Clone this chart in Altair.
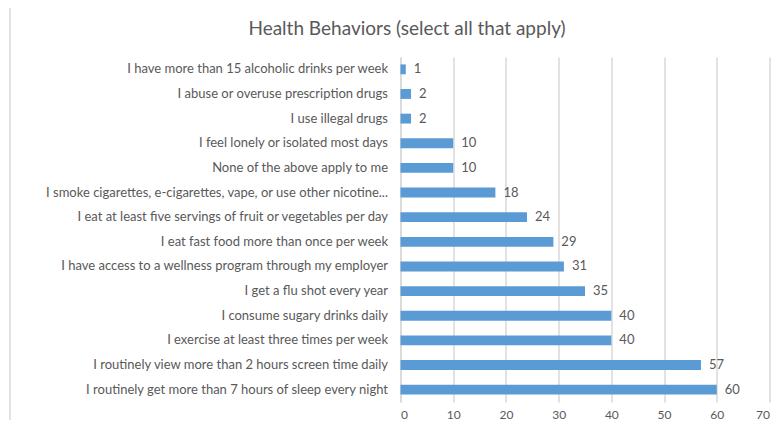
import altair as alt
import pandas as pd

chart_title = ["Health Behaviors (select all that apply)"]
behaviors = [
    "I have more than 15 alcoholic drinks per week",
    "I abuse or overuse prescription drugs",
    "I use illegal drugs",
    "I feel lonely or isolated most days",
    "None of the above apply to me",
    "I smoke cigarettes, e-cigarettes, vape, or use other nicotine...",
    "I eat at least five servings of fruit or vegetables per day",
    "I eat fast food more than once per week",
    "I have access to a wellness program through my employer",
    "I get a flu shot every year",
    "I consume sugary drinks daily",
    "I exercise at least three times per week",
    "I routinely view more than 2 hours screen time daily",
    "I routinely get more than 7 hours of sleep every night",
]
counts = [1, 2, 2, 10, 10, 18, 24, 29, 31, 35, 40, 40, 57, 60]
x_ticks = [0, 10, 20, 30, 40, 50, 60, 70]

df = pd.DataFrame({"behavior": behaviors, "count": counts})
tdf = pd.DataFrame({"t": chart_title})

FONT = "Lato"
GREY = "#595959"

y_enc = alt.Y("behavior:N", sort=behaviors, title=None,
              scale=alt.Scale(paddingInner=0.6, paddingOuter=0.3),
              axis=alt.Axis(labelFontSize=13, labelColor=GREY, labelFont=FONT,
                            labelPadding=13, ticks=False, domain=True,
                            domainColor="#d9d9d9", domainWidth=1.5,
                            labelLimit=400))
x_enc = alt.X("count:Q", title=None,
              scale=alt.Scale(domain=[0, 70], nice=False),
              axis=alt.Axis(values=x_ticks, labelFontSize=12, labelColor=GREY,
                            labelFont=FONT, ticks=False, domain=False,
                            gridColor="#d9d9d9", gridWidth=1.5, labelPadding=7))

bars = alt.Chart(df).mark_bar(color="#5b9bd5").encode(y=y_enc, x=x_enc)
labels = alt.Chart(df).mark_text(align="left", dx=8, fontSize=13, color=GREY,
                                 font=FONT).encode(
    y=alt.Y("behavior:N", sort=behaviors), x="count:Q", text="count:Q")
frame = alt.Chart(tdf).mark_rule(color="#d9d9d9", strokeWidth=1.5).encode(
    x=alt.value(-390.5), y=alt.value(-60), y2=alt.value(380))
title = alt.Chart(tdf).mark_text(fontSize=19, font=FONT, color=GREY,
                                 align="center", baseline="middle").encode(
    x=alt.value(6.5), y=alt.value(-28), text="t:N")

chart = alt.layer(frame, title, bars, labels).properties(
    width=369, height=345,
    autosize=alt.AutoSizeParams(type="none"),
    padding={"left": 392.5, "top": 49, "right": 4, "bottom": 18},
).configure_view(stroke=None)

chart.save("out.html", embed_options={"renderer": "svg", "actions": False})
